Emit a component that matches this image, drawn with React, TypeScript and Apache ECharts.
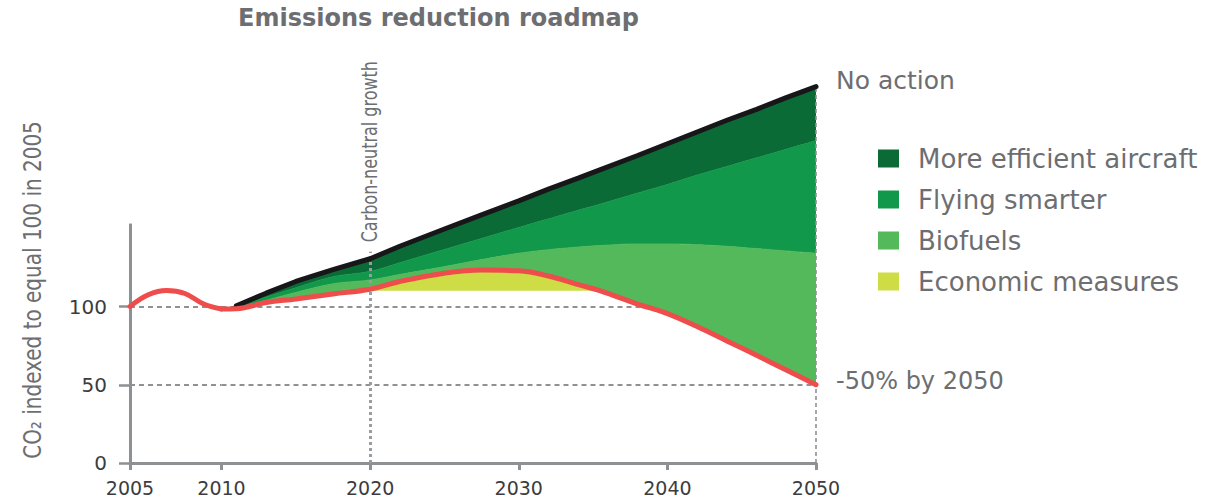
import React, { useEffect, useRef } from "react";
import * as echarts from "echarts";

// ---- data ----
const YEARS_A = [2005, 2006, 2007, 2008, 2009, 2010];
const TARGET_A = [100, 107.5, 110.2, 108.3, 101.8, 98.4];

const YEARS_B = [2010, 2011, 2013, 2015, 2017.5, 2020, 2022, 2025, 2027.5, 2030, 2032, 2034, 2035.5, 2038, 2040, 2042, 2044, 2046, 2048, 2050];
const TARGET_B = [98.4, 98.6, 102.5, 104.8, 108, 111, 116, 121.3, 123.3, 122.8, 119.5, 114, 110, 101.5, 95.5, 87.2, 78, 68.8, 59.4, 50];
const BIOFUELS_TOP = [98.4, 99.4, 104, 109, 114.5, 117, 120.5, 125.5, 130, 134, 136.3, 138, 139, 140, 140, 139.5, 138.5, 137, 135.5, 134];
const SMARTER_TOP = [98.4, 99.8, 106, 112, 119, 122.5, 128, 136.5, 143.5, 150.5, 156, 161.5, 165.5, 172.5, 178, 184, 189.5, 195, 200.5, 206];
const NO_ACTION = [98.4, 100.5, 108.5, 116, 123.5, 130.5, 138.5, 149.5, 158.5, 167.5, 175, 182, 187.5, 196.5, 204, 211.5, 219, 226, 233.5, 240.5];

const ECON_CAP = 110; // carbon-neutral growth level under the yellow wedge
const ECON_FROM = 2020;
const ECON_TO = 2035.5;

const Y_TICKS = [0, 50, 100];
const Y_GUIDES = [50, 100];
const AXIS_TOP = 153;
const CARBON_YEAR = 2020;
const CARBON_LINE_TOP = 135;
const CARBON_LABEL_AT = 141;

const LEGEND = ["More efficient aircraft", "Flying smarter", "Biofuels", "Economic measures"];
const COLORS: Record<string, string> = {
  "More efficient aircraft": "#0b6b36",
  "Flying smarter": "#12984a",
  Biofuels: "#53b95b",
  "Economic measures": "#cedc45",
};

const FONT = "DejaVu Sans";
const TEXT_GREY = "#6d6e71";
const LABEL_DARK = "#3c3c3e";
const AXIS_GREY = "#8d9194";
const GUIDE_GREY = "#8f9193";
const RED = "#ef4c4c";
const BLACK = "#17171a";

const pairs = (xs: number[], ys: number[]) => xs.map((x, i) => [x, ys[i]]);
// value first, year second (stacking runs on the first value dimension)
const vy = (xs: number[], ys: number[]) => xs.map((x, i) => [ys[i], x]);
const diff = (a: number[], b: number[]) => a.map((v, i) => +(v - b[i]).toFixed(3));

export default function App() {
  const ref = useRef<HTMLDivElement>(null);

  useEffect(() => {
    if (!ref.current) return;
    const chart = echarts.init(ref.current, null, { renderer: "svg" });

    const econIdx = YEARS_B.map((y, i) => i).filter((i) => YEARS_B[i] >= ECON_FROM && YEARS_B[i] <= ECON_TO);
    const econYears = econIdx.map((i) => YEARS_B[i]);
    const econTop = econIdx.map((i) => TARGET_B[i]);

    const gridTop = 71.75;
    const gridH = 391.25;

    const xCommon: any = {
      type: "value",
      axisLine: { show: true, onZero: false, lineStyle: { color: AXIS_GREY, width: 3 } },
      axisTick: { show: true, length: 7, lineStyle: { color: AXIS_GREY, width: 3 } },
      axisLabel: {
        color: LABEL_DARK,
        fontFamily: FONT,
        fontSize: 19,
        lineHeight: 19,
        margin: 15,
        formatter: (v: number) => String(v),
      },
      splitLine: { show: false },
    };

    const dashed = (x1: number, x2: number, y: number) => [
      { coord: [x1, y], lineStyle: { color: GUIDE_GREY, width: 2, type: [5, 4] } },
      { coord: [x2, y] },
    ];

    const stacked = (name: string, stack: string, data: number[][], color?: string) => ({
      name,
      type: "line",
      xAxisIndex: 1,
      yAxisIndex: 1,
      stack,
      encode: { x: 1, y: 0 },
      data,
      smooth: 0.4,
      symbol: "none",
      silent: true,
      ...(color
        ? {
            color,
            itemStyle: { color },
            lineStyle: { width: 0.8, color },
            areaStyle: { color, opacity: 1 },
          }
        : { lineStyle: { opacity: 0, width: 0 } }),
      z: 2,
    });

    const option: any = {
      animation: false,
      backgroundColor: "#ffffff",
      title: {
        text: "Emissions reduction roadmap",
        left: 238,
        top: 5.5,
        padding: 0,
        textStyle: { fontFamily: FONT, fontSize: 24, fontWeight: "bold", color: TEXT_GREY },
      },
      legend: {
        data: LEGEND,
        orient: "vertical",
        left: 878,
        top: 145.5,
        itemWidth: 21,
        itemHeight: 18,
        itemGap: 15,
        icon: "rect",
        selectedMode: false,
        padding: 0,
        itemStyle: { borderWidth: 0 },
        textStyle: { fontFamily: FONT, fontSize: 26, lineHeight: 26, color: TEXT_GREY, padding: [0, 0, 0, 14] },
      },
      grid: [
        { left: 130, top: gridTop, width: 91.5, height: gridH },
        { left: 221.5, top: gridTop, width: 594.5, height: gridH },
      ],
      xAxis: [
        { ...xCommon, gridIndex: 0, min: 2005, max: 2010, interval: 5, axisLabel: { ...xCommon.axisLabel, showMaxLabel: false } },
        { ...xCommon, gridIndex: 1, min: 2010, max: 2050, interval: 10 },
      ],
      yAxis: [
        {
          type: "value",
          gridIndex: 0,
          min: 0,
          max: 250,
          interval: 50,
          axisLine: { show: false },
          splitLine: { show: false },
          axisTick: { show: true, customValues: Y_TICKS, length: 11, lineStyle: { color: AXIS_GREY, width: 2.5 } },
          axisLabel: { customValues: Y_TICKS, color: LABEL_DARK, fontFamily: FONT, fontSize: 20, margin: 23 },
        },
        { type: "value", gridIndex: 1, min: 0, max: 250, interval: 50, show: false },
      ],
      series: [
        {
          name: "_targetA",
          type: "line",
          xAxisIndex: 0,
          yAxisIndex: 0,
          data: pairs(YEARS_A, TARGET_A),
          smooth: 0.4,
          symbol: "none",
          silent: true,
          lineStyle: { color: RED, width: 5, cap: "round" },
          z: 7,
          markLine: {
            silent: true,
            symbol: ["none", "none"],
            label: { show: false },
            z: 1,
            data: [
              [{ coord: [YEARS_A[0], 0], lineStyle: { color: AXIS_GREY, width: 3, type: "solid" } }, { coord: [YEARS_A[0], AXIS_TOP] }],
              ...Y_GUIDES.map((g) => dashed(YEARS_A[0], YEARS_A[YEARS_A.length - 1], g)),
            ],
          },
        },
        {
          ...stacked("_base", "g", vy(YEARS_B, TARGET_B)),
          markLine: {
            silent: true,
            symbol: ["none", "none"],
            label: { show: false },
            z: 1,
            data: Y_GUIDES.map((g) => dashed(YEARS_B[0], YEARS_B[YEARS_B.length - 1], g)),
          },
        },
        stacked("Biofuels", "g", vy(YEARS_B, diff(BIOFUELS_TOP, TARGET_B)), COLORS["Biofuels"]),
        stacked("Flying smarter", "g", vy(YEARS_B, diff(SMARTER_TOP, BIOFUELS_TOP)), COLORS["Flying smarter"]),
        stacked("More efficient aircraft", "g", vy(YEARS_B, diff(NO_ACTION, SMARTER_TOP)), COLORS["More efficient aircraft"]),
        stacked("_econBase", "e", vy(econYears, econYears.map(() => ECON_CAP))),
        {
          ...stacked(
            "Economic measures",
            "e",
            vy(econYears, econTop.map((v) => +(v - ECON_CAP).toFixed(3))),
            COLORS["Economic measures"]
          ),
          lineStyle: { width: 0 },
        },
        {
          name: "No action",
          type: "line",
          xAxisIndex: 1,
          yAxisIndex: 1,
          data: pairs(YEARS_B.slice(1), NO_ACTION.slice(1)),
          symbol: "none",
          silent: true,
          lineStyle: { color: BLACK, width: 5, cap: "round" },
          z: 6,
          endLabel: {
            show: true,
            formatter: "No action",
            distance: 20,
            offset: [0, -6],
            color: TEXT_GREY,
            fontFamily: FONT,
            fontSize: 25,
          },
          markLine: {
            silent: true,
            symbol: ["none", "none"],
            label: { show: false },
            z: 6,
            data: [
              [
                { coord: [CARBON_YEAR, 0], lineStyle: { color: "#9a9c9e", width: 3, type: [3, 3] } },
                { coord: [CARBON_YEAR, CARBON_LINE_TOP] },
              ],
              [
                { coord: [YEARS_B[YEARS_B.length - 1], 0], lineStyle: { color: GUIDE_GREY, width: 1.6, type: [4, 3] } },
                { coord: [YEARS_B[YEARS_B.length - 1], NO_ACTION[NO_ACTION.length - 1]] },
              ],
            ],
          },
        },
        {
          name: "_targetB",
          type: "line",
          xAxisIndex: 1,
          yAxisIndex: 1,
          data: pairs(YEARS_B, TARGET_B),
          smooth: 0.4,
          symbol: "none",
          silent: true,
          lineStyle: { color: RED, width: 5, cap: "round" },
          z: 7,
          endLabel: {
            show: true,
            formatter: "-50% by 2050",
            distance: 20,
            offset: [0, -4],
            color: TEXT_GREY,
            fontFamily: FONT,
            fontSize: 24,
          },
        },
      ],
    };

    chart.setOption(option);

    const p = chart.convertToPixel({ xAxisIndex: 1, yAxisIndex: 1 } as any, [CARBON_YEAR, CARBON_LABEL_AT]) as number[];
    chart.setOption({
      graphic: [
        {
          type: "text",
          x: 32,
          y: 290,
          rotation: Math.PI / 2,
          scaleY: 1.2,
          silent: true,
          style: {
            text: "CO\u2082 indexed to equal 100 in 2005",
            fontFamily: FONT,
            fontSize: 20,
            fill: TEXT_GREY,
            align: "center",
            verticalAlign: "middle",
          },
        },
        {
          type: "text",
          x: p[0],
          y: p[1],
          rotation: Math.PI / 2,
          scaleY: 1.3,
          silent: true,
          style: {
            text: "Carbon-neutral growth",
            fontFamily: FONT,
            fontSize: 16,
            fill: TEXT_GREY,
            align: "left",
            verticalAlign: "middle",
          },
        },
      ],
    });

    return () => chart.dispose();
  }, []);

  return <div ref={ref} style={{ position: "fixed", left: 0, top: 0, width: 1216, height: 500 }} />;
}
